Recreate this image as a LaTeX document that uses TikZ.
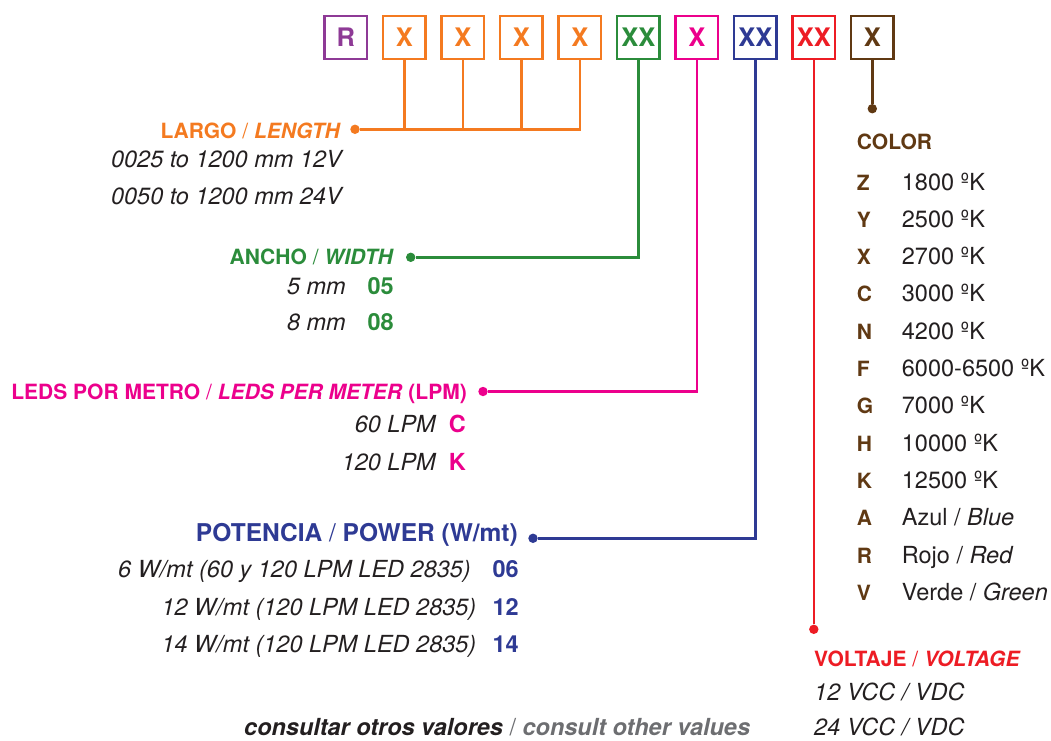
\documentclass[tikz,border=0pt]{standalone}
\usepackage{fontspec}
\setmainfont{TeX Gyre Heros}
\definecolor{corange}{HTML}{F47A20}
\definecolor{cgreen}{HTML}{2B8C3B}
\definecolor{cpink}{HTML}{EC008C}
\definecolor{cblue}{HTML}{2E3A94}
\definecolor{cred}{HTML}{ED1C24}
\definecolor{cbrown}{HTML}{603913}
\definecolor{cpurple}{HTML}{8E3A96}
\definecolor{cdark}{HTML}{231F20}
\definecolor{cgray}{HTML}{6D6E71}
\begin{document}
\begin{tikzpicture}[x=1pt,y=-1pt,
  box/.style={draw, line width=2.4pt, minimum size=42.6pt, inner sep=0pt, font=\fontsize{25.5}{29}\selectfont\bfseries},
  dotn/.style={circle, inner sep=0pt, minimum size=9.4pt},
  conn/.style={line width=2.6pt},
  txt/.style={inner sep=0pt},
  hd/.style={txt, font=\fontsize{21}{25}\selectfont\bfseries},
  vi/.style={txt, text=cdark, font=\fontsize{23.5}{28}\selectfont\itshape},
  vr/.style={txt, text=cdark, font=\fontsize{23.5}{28}\selectfont},
  vb/.style={txt, font=\fontsize{23.5}{28}\selectfont\bfseries},
  lt/.style={txt, text=cbrown, font=\fontsize{21}{25}\selectfont\bfseries, anchor=base west}]
\useasboundingbox (0,0) rectangle (1051,740);

% code boxes
\foreach \i/\t/\c in {0/R/cpurple,1/X/corange,2/X/corange,3/X/corange,4/X/corange,5/XX/cgreen,6/X/cpink,7/XX/cblue,8/XX/cred,9/X/cbrown}
  \node[box, draw=\c, text=\c] (b\i) at ({345.8+58.5*\i},37.5) {\t};

% dots
\node[dotn, fill=corange] (dotL) at (355,129.3) {};
\node[dotn, fill=cgreen] (dotW) at (410.7,257.3) {};
\node[dotn, fill=cpink] (dotP) at (483,391.5) {};
\node[dotn, fill=cblue] (dotB) at (533,538.3) {};
\node[dotn, fill=cred] (dotR) at (813.8,629.3) {};
\node[dotn, fill=cbrown] (dotC) at (872.3,108.7) {};

% connectors
\draw[conn, corange] (dotL) -| (b4.south);
\foreach \i in {1,2,3} \draw[conn, corange] (b\i.south) -- (b\i.south |- dotL);
\draw[conn, cgreen] (b5.south) |- (dotW);
\draw[conn, cpink] (b6.south) |- (dotP);
\draw[conn, cblue] (b7.south) |- (dotB);
\draw[conn, cred] (b8.south) -- (dotR);
\draw[conn, cbrown] (b9.south) -- (dotC);

% largo
\node[hd, text=corange, anchor=base east] (largo) at (341,138.3) {LARGO {\mdseries/} \textit{LENGTH}};
\node[vi, anchor=base east] (l1) at (342,167.3) {0025 to 1200 mm 12V};
\node[vi, anchor=base east] (l2) at (342,204) {0050 to 1200 mm 24V};

% ancho
\node[hd, text=cgreen, anchor=base east] (ancho) at (394,264) {ANCHO {\mdseries/} \textit{WIDTH}};
\node[vi, anchor=base east] (w1) at (346,294) {5 mm};
\node[vb, text=cgreen, anchor=base east] (w1c) at (394,294) {05};
\node[vi, anchor=base east] (w2) at (346,330.7) {8 mm};
\node[vb, text=cgreen, anchor=base east] (w2c) at (394,330.7) {08};

% leds
\node[hd, text=cpink, anchor=base east] (leds) at (467,399) {LEDS POR METRO {\mdseries/} \textit{LEDS PER METER} (LPM)};
\node[vi, anchor=base east] (p1) at (436,432.7) {60 LPM};
\node[vb, text=cpink, anchor=base east] (p1c) at (466,432.7) {C};
\node[vi, anchor=base east] (p2) at (436,470) {120 LPM};
\node[vb, text=cpink, anchor=base east] (p2c) at (466,470) {K};

% potencia
\node[txt, font=\fontsize{24.5}{29}\selectfont\bfseries, text=cblue, anchor=base east] (pot) at (518,541.7) {POTENCIA {\mdseries/} POWER (W/mt)};
\node[vi, anchor=base east] (o1) at (471,577.3) {6 W/mt (60 y 120 LPM LED 2835)};
\node[vb, text=cblue, anchor=base east] (o1c) at (519,577.3) {06};
\node[vi, anchor=base east] (o2) at (476.5,615) {12 W/mt (120 LPM LED 2835)};
\node[vb, text=cblue, anchor=base east] (o2c) at (519,615) {12};
\node[vi, anchor=base east] (o3) at (476.5,652.7) {14 W/mt (120 LPM LED 2835)};
\node[vb, text=cblue, anchor=base east] (o3c) at (519,652.7) {14};

% consult
\node[txt, text=cdark, font=\fontsize{23.5}{28}\selectfont\bfseries\itshape, anchor=base west] (cons) at (244,735.5) {consultar otros valores {\color{cgray}\mdseries\upshape/} \textcolor{cgray}{consult other values}};

% color
\node[lt] (colh) at (856.7,149.3) {COLOR};
\foreach \l/\v [count=\n from 0] in {Z/{1800 ºK}, Y/{2500 ºK}, X/{2700 ºK}, C/{3000 ºK}, N/{4200 ºK}, F/{6000-6500 ºK}, G/{7000 ºK}, H/{10000 ºK}, K/{12500 ºK}, A/{Azul / \textit{Blue}}, R/{Rojo / \textit{Red}}, V/{Verde / \textit{Green}}}{
  \node[lt] (cl\n) at (856.7,{190+37.3*\n}) {\l};
  \node[vr, anchor=base west] (cv\n) at (901.7,{190+37.3*\n}) {\v};
}

% voltage
\node[hd, text=cred, anchor=base west] (volt) at (814,666) {VOLTAJE {\mdseries/} \textit{VOLTAGE}};
\node[vi, anchor=base west] (v1) at (814,700.7) {12 VCC / VDC};
\node[vi, anchor=base west] (v2) at (814,735.5) {24 VCC / VDC};
\end{tikzpicture}
\end{document}
